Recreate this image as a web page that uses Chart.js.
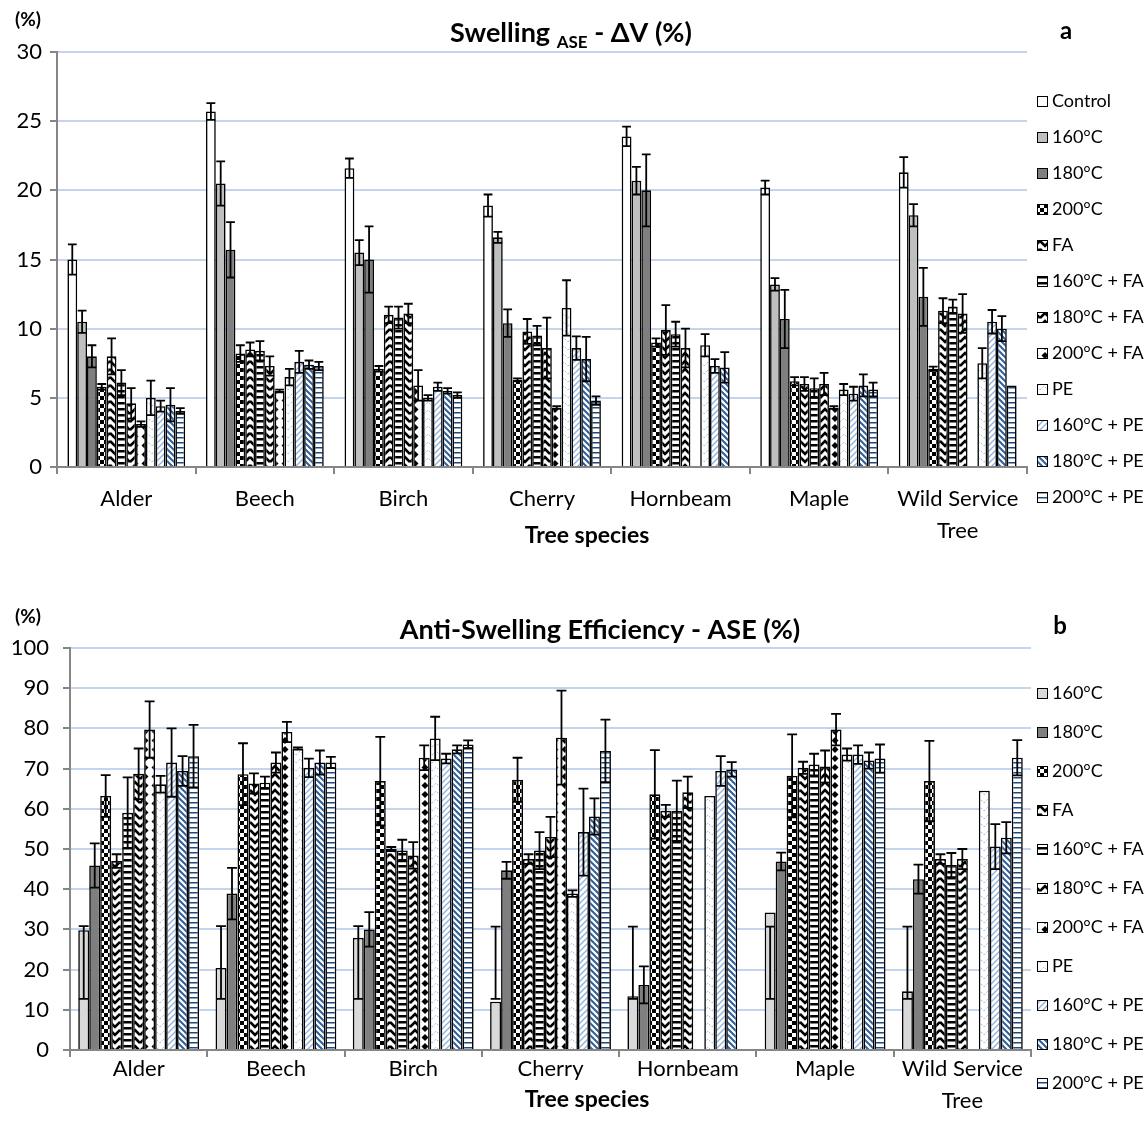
<!DOCTYPE html>
<html>
<head>
<meta charset="utf-8">
<title>Swelling and ASE by tree species</title>
<script src="https://cdn.jsdelivr.net/npm/chart.js@4.4.0/dist/chart.umd.min.js"></script>
<style>
  html, body { margin: 0; padding: 0; background: #fff; }
  .panel { position: relative; width: 1146px; height: 565px; }
</style>
</head>
<body>
<div class="panel"><canvas id="swellingChart"></canvas></div>
<div class="panel"><canvas id="aseChart"></canvas></div>
<script>
// --- data -------------------------------------------------------------------
const species = ['Alder', 'Beech', 'Birch', 'Cherry', 'Hornbeam', 'Maple', ['Wild Service', 'Tree']];

// (a) Swelling ASE - dV (%), mean and std
const swControl = [15.0, 25.7, 21.6, 18.9, 23.9, 20.2, 21.3];
const swControlErr = [1.1, 0.6, 0.7, 0.8, 0.7, 0.5, 1.1];
const sw160 = [10.5, 20.5, 15.5, 16.6, 20.7, 13.2, 18.2];
const sw160Err = [0.8, 1.6, 0.9, 0.4, 1.0, 0.45, 0.8];
const sw180 = [8.0, 15.7, 15.0, 10.4, 20.0, 10.7, 12.3];
const sw180Err = [0.8, 2.0, 2.4, 1.0, 2.6, 2.1, 2.1];
const sw200 = [5.8, 8.2, 7.1, 6.3, 9.0, 6.2, 7.1];
const sw200Err = [0.2, 0.6, 0.2, 0.1, 0.3, 0.3, 0.15];
const swFA = [8.0, 8.5, 11.0, 9.8, 9.9, 6.0, 11.3];
const swFAErr = [1.3, 0.5, 0.6, 0.9, 1.8, 0.5, 0.9];
const sw160FA = [6.1, 8.4, 10.8, 9.5, 9.6, 5.7, 11.6];
const sw160FAErr = [0.9, 0.7, 0.8, 0.7, 0.9, 0.7, 0.5];
const sw180FA = [4.6, 7.3, 11.1, 8.6, 8.6, 6.0, 11.1];
const sw180FAErr = [1.1, 0.7, 0.7, 2.2, 1.4, 0.8, 1.4];
const sw200FA = [3.1, 5.5, 5.9, 4.3, null, 4.3, null];
const sw200FAErr = [0.2, 0.1, 1.1, 0.1, 0, 0.1, 0];
const swPE = [5.0, 6.5, 5.0, 11.5, 8.8, 5.6, 7.5];
const swPEErr = [1.25, 0.6, 0.2, 2.0, 0.8, 0.4, 1.1];
const sw160PE = [4.4, 7.6, 5.8, 8.6, 7.3, 5.3, 10.5];
const sw160PEErr = [0.4, 0.8, 0.3, 0.85, 0.5, 0.5, 0.85];
const sw180PE = [4.5, 7.4, 5.5, 7.8, 7.2, 5.9, 10.0];
const sw180PEErr = [1.2, 0.3, 0.2, 1.6, 1.1, 0.8, 0.9];
const sw200PE = [4.05, 7.3, 5.2, 4.8, null, 5.6, 5.9];
const sw200PEErr = [0.2, 0.3, 0.2, 0.3, 0, 0.5, 0];

// (b) Anti-Swelling Efficiency - ASE (%)
const ase160 = [29.8, 20.4, 27.9, 12.0, 13.4, 34.2, 14.6];
const ase160Low = [12.7, 12.7, 12.7, 12.7, 12.7, 12.7, 12.7];   // error bar drawn as a fixed range
const ase160High = [30.8, 30.8, 30.8, 30.7, 30.7, 30.7, 30.7];
const ase180 = [45.9, 38.9, 30.0, 44.7, 16.2, 46.9, 42.5];
const ase180Err = [5.5, 6.4, 4.3, 2.1, 4.6, 2.2, 3.6];
const ase200 = [63.2, 68.6, 66.9, 67.2, 63.6, 68.2, 66.9];
const ase200Err = [5.2, 7.7, 11.0, 5.5, 11.0, 10.3, 10.0];
const aseFA = [47.0, 66.3, 50.0, 47.5, 59.5, 70.2, 47.5];
const aseFAErr = [1.7, 2.5, 0.5, 1.2, 1.5, 1.5, 1.2];
const ase160FA = [59.0, 66.5, 49.6, 49.6, 59.5, 71.0, 46.0];
const ase160FAErr = [8.8, 1.5, 2.7, 4.6, 7.5, 2.7, 3.0];
const ase180FA = [68.7, 71.5, 48.4, 53.0, 64.1, 70.5, 47.5];
const ase180FAErr = [6.3, 2.5, 3.3, 5.0, 3.9, 4.0, 2.5];
const ase200FA = [79.7, 79.1, 72.7, 77.7, null, 79.7, null];
const ase200FAErr = [7.0, 2.5, 3.1, 11.7, 0, 3.9, 0];
const asePE = [66.1, 75.0, 77.5, 38.9, 63.2, 73.5, 64.5];
const asePEErr = [2.1, 0.3, 5.4, 0.8, 0, 1.5, 0];
const ase160PE = [71.5, 70.2, 72.5, 54.2, 69.4, 73.5, 50.6];
const ase160PEErr = [8.5, 2.3, 1.2, 10.8, 3.7, 2.3, 5.6];
const ase180PE = [69.4, 71.5, 74.8, 58.1, 69.8, 72.0, 52.8];
const ase180PEErr = [3.7, 3.0, 1.0, 4.5, 1.8, 2.0, 3.9];
const ase200PE = [73.1, 71.5, 76.0, 74.4, null, 72.5, 72.7];
const ase200PEErr = [7.8, 1.4, 1.0, 7.8, 0, 3.5, 4.4];

// --- fills (Excel-like hatches) ---------------------------------------------
const FONT = 'Lato, "Open Sans", sans-serif';
Chart.defaults.font.family = FONT;
Chart.defaults.color = '#000';

const makePattern = (w, h, draw) => {
  const tile = document.createElement('canvas');
  tile.width = w;
  tile.height = h;
  const c = tile.getContext('2d');
  c.fillStyle = '#fff';
  c.fillRect(0, 0, w, h);
  draw(c);
  return c.createPattern(tile, 'repeat');
};

const fills = {
  checker: makePattern(8, 8, c => {
    c.fillStyle = '#000';
    c.fillRect(0, 0, 4, 4);
    c.fillRect(4, 4, 4, 4);
  }),
  chevronDown: makePattern(10, 8, c => {
    c.strokeStyle = '#000';
    c.lineWidth = 2.6;
    [-8, 0, 8].forEach(dy => {
      c.beginPath();
      c.moveTo(0, 1 + dy); c.lineTo(5, 6 + dy); c.lineTo(10, 1 + dy);
      c.stroke();
    });
  }),
  ladder: makePattern(10, 6, c => {
    c.fillStyle = '#000';
    c.fillRect(0, 0, 10, 2.5);
  }),
  chevronUp: makePattern(10, 8, c => {
    c.strokeStyle = '#000';
    c.lineWidth = 2.6;
    [-8, 0, 8].forEach(dy => {
      c.beginPath();
      c.moveTo(0, 6 + dy); c.lineTo(5, 1 + dy); c.lineTo(10, 6 + dy);
      c.stroke();
    });
  }),
  diamonds: makePattern(10, 9, c => {
    c.fillStyle = '#000';
    c.beginPath();
    c.moveTo(5, 1); c.lineTo(8.5, 4.5); c.lineTo(5, 8); c.lineTo(1.5, 4.5);
    c.closePath();
    c.fill();
  }),
  peLight: makePattern(8, 8, c => {
    c.strokeStyle = '#9dbfe6';
    c.lineWidth = 1;
    c.setLineDash([2, 1.5]);
    c.beginPath();
    c.moveTo(0, 6); c.lineTo(4, 2); c.lineTo(8, 6);
    c.stroke();
  }),
  diagLight: makePattern(6, 6, c => {
    c.strokeStyle = '#8fb2df';
    c.lineWidth = 1.4;
    c.beginPath();
    c.moveTo(-1, 7); c.lineTo(7, -1);
    c.moveTo(-1, 1); c.lineTo(1, -1);
    c.moveTo(5, 7); c.lineTo(7, 5);
    c.stroke();
  }),
  diagBlue: makePattern(6, 6, c => {
    c.strokeStyle = '#2f5f9a';
    c.lineWidth = 2;
    c.beginPath();
    c.moveTo(-1, -1); c.lineTo(7, 7);
    c.moveTo(-1, 5); c.lineTo(1, 7);
    c.moveTo(5, -1); c.lineTo(7, 1);
    c.stroke();
  }),
  hLinesBlue: makePattern(4, 5, c => {
    c.fillStyle = '#1f497d';
    c.fillRect(0, 2, 4, 1.5);
  }),
};

const series = (label, data, fill, errors, catPct) => ({
  label,
  data,
  errors,
  backgroundColor: fill,
  borderColor: '#000',
  borderWidth: 1.6,
  barPercentage: 1,
  categoryPercentage: catPct,
});

// --- plugins ----------------------------------------------------------------
// Error bars: symmetric std (errors) or a fixed low/high range (errLow/errHigh)
const errorBarPlugin = {
  id: 'errorBars',
  afterDatasetsDraw(chart) {
    const ctx = chart.ctx;
    const yScale = chart.scales.y;
    ctx.save();
    ctx.strokeStyle = '#000';
    ctx.lineWidth = 1.8;
    chart.data.datasets.forEach((ds, i) => {
      chart.getDatasetMeta(i).data.forEach((bar, j) => {
        const v = ds.data[j];
        if (v === null || v === undefined) return;
        let lo, hi;
        if (ds.errLow) {
          lo = ds.errLow[j];
          hi = ds.errHigh[j];
        } else {
          const e = ds.errors[j];
          if (!e) return;
          lo = v - e;
          hi = v + e;
        }
        const yLo = yScale.getPixelForValue(lo);
        const yHi = yScale.getPixelForValue(hi);
        const half = bar.width * 0.45;
        ctx.beginPath();
        ctx.moveTo(bar.x, yLo); ctx.lineTo(bar.x, yHi);
        ctx.moveTo(bar.x - half, yLo); ctx.lineTo(bar.x + half, yLo);
        ctx.moveTo(bar.x - half, yHi); ctx.lineTo(bar.x + half, yHi);
        ctx.stroke();
      });
    });
    ctx.restore();
  },
};

// Legend drawn as a fixed column on the right, like the Excel original
const sideLegendPlugin = {
  id: 'sideLegend',
  afterDraw(chart, args, opts) {
    const ctx = chart.ctx;
    ctx.save();
    ctx.font = `18px ${FONT}`;
    ctx.textBaseline = 'middle';
    ctx.textAlign = 'left';
    chart.data.datasets.forEach((ds, i) => {
      const y = opts.top + i * opts.step;
      ctx.fillStyle = ds.backgroundColor;
      ctx.fillRect(opts.x, y - 5, 11, 11);
      ctx.strokeStyle = '#000';
      ctx.lineWidth = 1;
      ctx.strokeRect(opts.x + 0.5, y - 4.5, 10, 10);
      ctx.fillStyle = '#000';
      ctx.fillText(ds.label, opts.x + 15, y + 0.5);
    });
    ctx.restore();
  },
};

// Title (with subscript runs), unit label, axis title and panel letter
const panelTextPlugin = {
  id: 'panelText',
  afterDraw(chart, args, opts) {
    const ctx = chart.ctx;
    ctx.save();
    ctx.fillStyle = '#000';
    ctx.textBaseline = 'middle';
    ctx.textAlign = 'center';
    ctx.font = `bold 19px ${FONT}`;
    ctx.fillText('(%)', opts.unitX, opts.unitY);
    ctx.font = `bold 24px ${FONT}`;
    ctx.fillText(opts.letter, opts.letterX, opts.letterY);
    ctx.font = `bold 23px ${FONT}`;
    ctx.fillText('Tree species', opts.axisX, opts.axisY);

    ctx.textBaseline = 'alphabetic';
    ctx.textAlign = 'left';
    const runs = opts.title.map(r => ({ text: r.text, size: r.size, dy: r.dy || 0 }));
    let total = 0;
    runs.forEach(r => {
      ctx.font = `bold ${r.size}px ${FONT}`;
      r.w = ctx.measureText(r.text).width;
      total += r.w;
    });
    let x = opts.titleX - total / 2;
    runs.forEach(r => {
      ctx.font = `bold ${r.size}px ${FONT}`;
      ctx.fillText(r.text, x, opts.titleY + r.dy);
      x += r.w;
    });
    ctx.restore();
  },
};

const GRID_BLUE = '#c3d5ec';
const AXIS_GRAY = '#868686';

const buildOptions = (cfg) => ({
  responsive: true,
  maintainAspectRatio: false,
  animation: false,
  layout: { padding: { top: cfg.top, right: cfg.right, left: 0, bottom: 0 } },
  plugins: {
    legend: { display: false },
    tooltip: { enabled: false },
    sideLegend: cfg.legend,
    panelText: cfg.text,
  },
  scales: {
    x: {
      offset: true,
      grid: { drawOnChartArea: false, drawTicks: true, tickLength: 7, color: AXIS_GRAY, lineWidth: 2 },
      border: { color: AXIS_GRAY, width: 2 },
      ticks: { font: { size: 22, lineHeight: 1.45 }, padding: cfg.labelPad, maxRotation: 0, autoSkip: false, color: '#000' },
      afterFit: (scale) => { scale.height = cfg.xHeight; },
    },
    y: {
      min: 0,
      max: cfg.max,
      ticks: { stepSize: cfg.step, font: { size: 22 }, padding: cfg.yPad, color: '#000' },
      grid: { color: GRID_BLUE, lineWidth: 2, tickLength: 7, tickColor: AXIS_GRAY, tickWidth: 2 },
      border: { color: AXIS_GRAY, width: 2 },
      afterFit: (scale) => { scale.width = cfg.yWidth; },
    },
  },
});

// --- (a) swelling -----------------------------------------------------------
const swPct = 0.85;
new Chart(document.getElementById('swellingChart'), {
  type: 'bar',
  data: {
    labels: species,
    datasets: [
      series('Control', swControl, '#ffffff', swControlErr, swPct),
      series('160°C', sw160, '#bfbfbf', sw160Err, swPct),
      series('180°C', sw180, '#7f7f7f', sw180Err, swPct),
      series('200°C', sw200, fills.checker, sw200Err, swPct),
      series('FA', swFA, fills.chevronDown, swFAErr, swPct),
      series('160°C + FA', sw160FA, fills.ladder, sw160FAErr, swPct),
      series('180°C + FA', sw180FA, fills.chevronUp, sw180FAErr, swPct),
      series('200°C + FA', sw200FA, fills.diamonds, sw200FAErr, swPct),
      series('PE', swPE, fills.peLight, swPEErr, swPct),
      series('160°C + PE', sw160PE, fills.diagLight, sw160PEErr, swPct),
      series('180°C + PE', sw180PE, fills.diagBlue, sw180PEErr, swPct),
      series('200°C + PE', sw200PE, fills.hLinesBlue, sw200PEErr, swPct),
    ],
  },
  options: buildOptions({
    top: 52, right: 119, max: 30, step: 5, yWidth: 57, yPad: 8,
    xHeight: 98, labelPad: 9,
    legend: { x: 1037, top: 101, step: 36 },
    text: {
      unitX: 28, unitY: 20, letter: 'a', letterX: 1066, letterY: 31,
      axisX: 587, axisY: 536,
      titleX: 571, titleY: 42,
      title: [{ text: 'Swelling ', size: 27 }, { text: 'ASE', size: 17, dy: 6 }, { text: ' - ΔV (%)', size: 27 }],
    },
  }),
  plugins: [errorBarPlugin, sideLegendPlugin, panelTextPlugin],
});

// --- (b) anti-swelling efficiency ------------------------------------------
const asePct = 0.88;
const ase160Series = series('160°C', ase160, '#d9d9d9', null, asePct);
ase160Series.errLow = ase160Low;
ase160Series.errHigh = ase160High;

new Chart(document.getElementById('aseChart'), {
  type: 'bar',
  data: {
    labels: species,
    datasets: [
      ase160Series,
      series('180°C', ase180, '#7f7f7f', ase180Err, asePct),
      series('200°C', ase200, fills.checker, ase200Err, asePct),
      series('FA', aseFA, fills.chevronDown, aseFAErr, asePct),
      series('160°C + FA', ase160FA, fills.ladder, ase160FAErr, asePct),
      series('180°C + FA', ase180FA, fills.chevronUp, ase180FAErr, asePct),
      series('200°C + FA', ase200FA, fills.diamonds, ase200FAErr, asePct),
      series('PE', asePE, fills.peLight, asePEErr, asePct),
      series('160°C + PE', ase160PE, fills.diagLight, ase160PEErr, asePct),
      series('180°C + PE', ase180PE, fills.diagBlue, ase180PEErr, asePct),
      series('200°C + PE', ase200PE, fills.hLinesBlue, ase200PEErr, asePct),
    ],
  },
  options: buildOptions({
    top: 83, right: 115, max: 100, step: 10, yWidth: 70, yPad: 14,
    xHeight: 80, labelPad: -4,
    legend: { x: 1037, top: 128, step: 39 },
    text: {
      unitX: 28, unitY: 52, letter: 'b', letterX: 1060, letterY: 61,
      axisX: 587, axisY: 535,
      titleX: 600, titleY: 74,
      title: [{ text: 'Anti-Swelling Efficiency - ASE (%)', size: 27 }],
    },
  }),
  plugins: [errorBarPlugin, sideLegendPlugin, panelTextPlugin],
});
</script>
</body>
</html>
